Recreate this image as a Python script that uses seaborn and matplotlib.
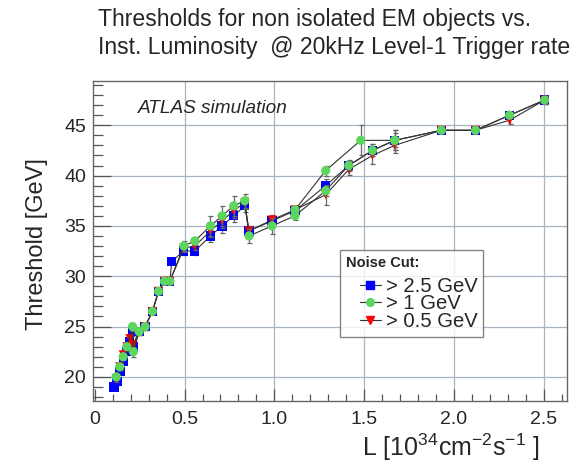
import numpy as np
import pandas as pd
import matplotlib
matplotlib.use("Agg")
import matplotlib.pyplot as plt
import seaborn as sns
from matplotlib.lines import Line2D
from matplotlib.legend_handler import HandlerLine2D
from matplotlib.ticker import MultipleLocator

# 資料
lumi_b = [0.107, 0.124, 0.141, 0.160, 0.178, 0.195, 0.210, 0.213, 0.247, 0.280,
          0.321, 0.355, 0.388, 0.418, 0.429, 0.496, 0.557, 0.644, 0.709, 0.774,
          0.835, 0.859, 0.987, 1.115, 1.286, 1.414, 1.546, 1.670, 1.930, 2.120,
          2.310, 2.505]
thr_b = [19.0, 19.5, 20.5, 21.5, 22.5, 23.5, 24.5, 23.0, 24.5, 25.0,
         26.5, 28.5, 29.5, 29.5, 31.5, 32.5, 32.5, 34.0, 35.0, 36.0,
         37.0, 34.5, 35.5, 36.5, 39.0, 41.0, 42.5, 43.5, 44.5, 44.5,
         46.0, 47.5]
err_b = [0.3, 0.3, 0.3, 0.3, 0.3, 0.3, 0.4, 0.4, 0.3, 0.3,
         0.3, 0.3, 0.3, 0.3, 0.3, 0.4, 0.4, 0.6, 0.7, 0.6,
         0.6, 0.5, 0.5, 0.5, 0.7, 0.5, 0.6, 0.7, 0.3, 0.3,
         0.3, 0.4]

lumi_r = [0.118, 0.139, 0.158, 0.178, 0.195, 0.213, 0.247, 0.280, 0.321, 0.355,
          0.388, 0.418, 0.496, 0.557, 0.644, 0.709, 0.774, 0.835, 0.859, 0.987,
          1.115, 1.286, 1.414, 1.546, 1.670, 1.930, 2.120, 2.310, 2.505]
thr_r = [19.8, 21.0, 22.2, 23.0, 23.8, 23.2, 24.5, 25.0, 26.5, 28.5,
         29.5, 29.5, 32.8, 33.0, 34.5, 35.5, 36.5, 37.3, 34.5, 35.6,
         36.6, 38.1, 40.6, 42.0, 43.0, 44.5, 44.5, 45.5, 47.5]
err_r = [0.3, 0.3, 0.3, 0.3, 0.3, 0.4, 0.3, 0.3, 0.3, 0.3,
         0.3, 0.3, 0.4, 0.4, 0.6, 0.7, 0.7, 0.6, 0.5, 0.5,
         0.4, 1.0, 0.5, 0.8, 0.8, 0.3, 0.3, 0.4, 0.4]

lumi_g = [0.120, 0.139, 0.158, 0.178, 0.210, 0.215, 0.247, 0.280, 0.321, 0.355,
          0.388, 0.418, 0.496, 0.557, 0.644, 0.709, 0.774, 0.835, 0.859, 0.987,
          1.115, 1.286, 1.414, 1.546, 1.670, 1.930, 2.120, 2.310, 2.505]
thr_g = [20.0, 21.0, 22.0, 23.0, 25.0, 22.5, 24.5, 25.0, 26.5, 28.5,
         29.5, 29.5, 33.0, 33.5, 35.0, 36.0, 37.0, 37.5, 34.0, 35.0,
         36.0, 38.5, 41.0, 42.5, 43.5, 44.5, 44.5, 46.0, 47.5]
err_g = [0.3, 0.3, 0.3, 0.3, 0.4, 0.5, 0.3, 0.3, 0.3, 0.3,
         0.3, 0.3, 0.5, 0.4, 1.0, 1.0, 1.0, 0.7, 0.7, 0.8,
         0.4, 0.5, 0.4, 0.6, 1.0, 0.3, 0.3, 0.3, 0.4]

# second green branch (upper path)
lumi_g2 = [1.115, 1.286, 1.481, 1.670]
thr_g2 = [36.6, 40.5, 43.5, 43.5]
err_g2 = [0.4, 0.5, 1.5, 1.0]

labels = ["> 2.5 GeV", "> 1 GeV", "> 0.5 GeV"]

sns.set_style("ticks")
plt.rcParams["font.family"] = ["Liberation Sans", "DejaVu Sans"]
plt.rcParams["mathtext.fontset"] = "custom"
plt.rcParams["mathtext.rm"] = "Liberation Sans"

fig = plt.figure(figsize=(5.83, 4.70), dpi=100)
ax = fig.add_axes([0.1595, 0.1468, 0.8131, 0.6809])

grid_c = "#a9b4c2"
for v in [0.5, 1.0, 1.5, 2.0, 2.5]:
    ax.axvline(v, color=grid_c, lw=0.9, zorder=0)
for v in [20, 25, 30, 35, 40, 45]:
    ax.axhline(v, color=grid_c, lw=0.9, zorder=0)

def draw_series(x, y, e, color, marker, size, z):
    df = pd.DataFrame({"L": x, "thr": y})
    sns.lineplot(data=df, x="L", y="thr", sort=False, estimator=None,
                 color="#333333", lw=0.8, ax=ax, zorder=z)
    ax.errorbar(x, y, yerr=e, fmt="none", ecolor="#666666", elinewidth=0.9,
                capsize=1.8, capthick=0.9, zorder=z)
    sns.scatterplot(data=df, x="L", y="thr", marker=marker, color=color,
                    s=size, edgecolor="none", linewidth=0, ax=ax, zorder=z + 0.5)

draw_series(lumi_b, thr_b, err_b, "#0000ff", "s", 44, 3)
draw_series(lumi_r, thr_r, err_r, "#ff0000", "v", 42, 4)
draw_series(lumi_g, thr_g, err_g, "#5cd65c", "o", 44, 5)
draw_series(lumi_g2, thr_g2, err_g2, "#5cd65c", "o", 44, 5)

ax.set_xlim(-0.01, 2.63)
ax.set_ylim(17.6, 49.4)
ax.xaxis.set_major_locator(MultipleLocator(0.5))
ax.xaxis.set_minor_locator(MultipleLocator(0.1))
ax.yaxis.set_major_locator(MultipleLocator(5))
ax.yaxis.set_minor_locator(MultipleLocator(1))
ax.xaxis.set_major_formatter(plt.FuncFormatter(lambda v, p: "0" if abs(v) < 1e-9 else f"{v:.1f}"))
ax.tick_params(axis="x", which="major", direction="in", length=9, width=0.9,
               labelsize=14, pad=7, color="#555555")
ax.tick_params(axis="x", which="minor", direction="in", length=5, width=0.9, color="#555555")
ax.tick_params(axis="y", which="major", direction="in", length=13, width=0.9,
               labelsize=14, pad=5, color="#555555")
ax.tick_params(axis="y", which="minor", direction="in", length=7, width=0.9, color="#555555")
for sp in ax.spines.values():
    sp.set_color("#666666")
    sp.set_linewidth(1.0)

ax.set_xlabel(r"L [10$^{34}$cm$^{-2}$s$^{-1}$ ]", fontsize=18, ha="right")
ax.xaxis.set_label_coords(0.943, -0.095)
ax.set_ylabel("Threshold [GeV]", fontsize=17)
ax.yaxis.set_label_coords(-0.095, 0.49)

ax.text(0.095, 0.915, "ATLAS simulation", transform=ax.transAxes, fontsize=13.7,
        style="italic", ha="left", va="center")

fig.text(0.168, 0.983, "Thresholds for non isolated EM objects vs.\nInst. Luminosity  @ 20kHz Level-1 Trigger rate",
         ha="left", va="top", fontsize=16.6, linespacing=1.3)

handles = [
    Line2D([], [], color="#333333", lw=0.8, marker="s", markersize=5.5,
           markerfacecolor="#0000ff", markeredgecolor="#0000ff"),
    Line2D([], [], color="#333333", lw=0.8, marker="o", markersize=5.5,
           markerfacecolor="#5cd65c", markeredgecolor="#5cd65c"),
    Line2D([], [], color="#333333", lw=0.8, marker="v", markersize=5.5,
           markerfacecolor="#ff0000", markeredgecolor="#ff0000"),
]
leg = ax.legend(handles, labels, title="Noise Cut:", loc="upper left",
                bbox_to_anchor=(0.521, 0.472), fontsize=14.6, title_fontsize=10.5,
                frameon=True, fancybox=False, edgecolor="#666666",
                handlelength=1.7, handletextpad=0.25, labelspacing=-0.08,
                borderpad=0.3, borderaxespad=0,
                handler_map={Line2D: HandlerLine2D(xpad=0.7)})
leg.get_title().set_fontweight("bold")
leg._legend_box.align = "left"
leg._legend_box.sep = 5
leg.get_frame().set_linewidth(1.0)
leg.set_zorder(10)

fig.savefig("out.png", dpi=100)
